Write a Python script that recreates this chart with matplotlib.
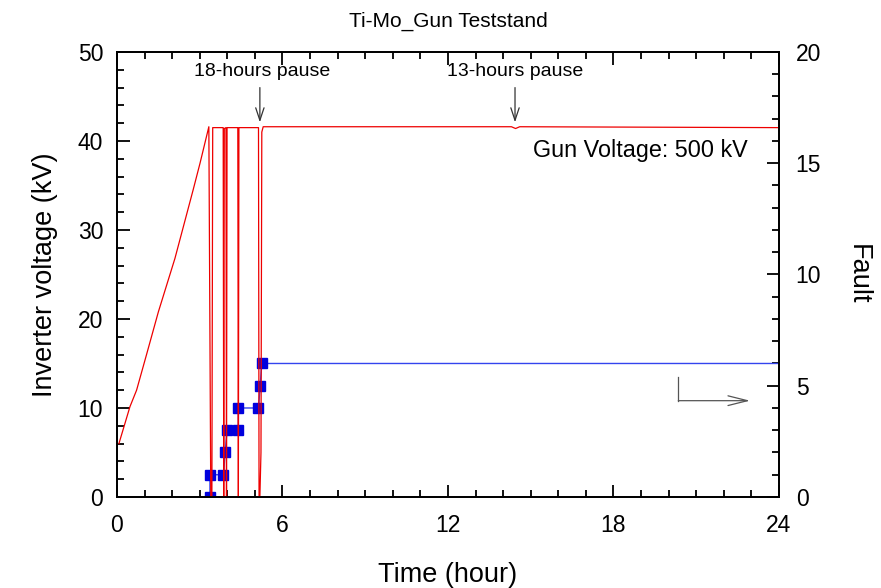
import matplotlib
matplotlib.use("Agg")
import matplotlib.pyplot as plt
from matplotlib.ticker import MultipleLocator

plt.rcParams['font.family'] = ['Liberation Sans', 'DejaVu Sans']

# inverter voltage trace (hour, kV)
volt_t = [0.07, 0.47, 0.71, 1.08, 1.50, 1.80, 2.10, 2.40, 2.76, 3.01, 3.33,
          3.40, 3.44, 3.47, 3.85, 3.87, 3.89, 3.95, 3.97, 3.99, 4.38, 4.40, 4.42,
          5.13, 5.15, 5.18, 5.22, 5.25, 5.30, 14.30, 14.45, 14.60, 24.0]
volt_kv = [6.0, 10.15, 12.0, 16.1, 20.8, 23.8, 26.8, 30.3, 34.5, 37.5, 41.6,
           0.0, 0.0, 41.5, 41.5, 0.0, 41.4, 41.5, 0.0, 41.5, 41.5, 0.0, 41.5,
           41.5, 0.0, 0.0, 5.0, 41.0, 41.6, 41.6, 41.4, 41.6, 41.5]

# fault counter (hour, count)
fault_t = [3.37, 3.37, 3.86, 3.92, 3.99, 4.40, 4.40, 5.13, 5.19, 5.25, 24.0]
fault_n = [0, 1, 1, 2, 3, 3, 4, 4, 5, 6, 6]

fig = plt.figure(figsize=(8.81, 5.88), dpi=100)
ax = fig.add_axes([0.1328, 0.1548, 0.7514, 0.7568])
ax2 = ax.twinx()

ax.plot(volt_t, volt_kv, color='#ee0000', lw=0.9, zorder=2)
ax2.plot(fault_t, fault_n, color='#3344ee', lw=1.0, marker='s', ms=7,
         mfc='#0000dd', mec='#0000dd', markevery=list(range(len(fault_t) - 1)))

ax.set_xlim(0, 24)
ax.set_ylim(0, 50)
ax2.set_ylim(0, 20)
ax.set_zorder(ax2.get_zorder() + 1)
ax.patch.set_visible(False)

ax.xaxis.set_major_locator(MultipleLocator(6))
ax.xaxis.set_minor_locator(MultipleLocator(1))
ax.yaxis.set_major_locator(MultipleLocator(10))
ax.yaxis.set_minor_locator(MultipleLocator(2))
ax2.yaxis.set_major_locator(MultipleLocator(5))
ax2.yaxis.set_minor_locator(MultipleLocator(1))

ax.tick_params(which='both', direction='in', top=True, right=False, width=1.3)
ax.tick_params(which='major', length=9, labelsize=16.5)
ax.tick_params(which='minor', length=5)
ax.tick_params(axis='x', which='major', pad=12)
ax.tick_params(axis='y', which='major', pad=10)
ax2.tick_params(which='both', direction='in', width=1.3)
ax2.tick_params(which='major', length=9, labelsize=16.5, pad=12)
ax2.tick_params(which='minor', length=5)
for a in (ax, ax2):
    for s in a.spines.values():
        s.set_linewidth(1.3)

ax.set_xlabel('Time (hour)', fontsize=19.5, labelpad=18)
ax.set_ylabel('Inverter voltage (kV)', fontsize=19.5, labelpad=14)
ax2.set_ylabel('Fault', fontsize=19.5, rotation=270, labelpad=36)
ax.set_title('Ti-Mo_Gun Teststand', fontsize=15, pad=18)

arrow = dict(arrowstyle='->,head_length=0.9,head_width=0.3', color='#333333', lw=0.9,
             shrinkA=0, shrinkB=0)
ax.annotate('', xy=(5.18, 42.1), xytext=(5.18, 46.0), arrowprops=arrow)
ax.text(5.25, 46.9, '18-hours pause', fontsize=14, ha='center', va='bottom')
ax.annotate('', xy=(14.43, 42.1), xytext=(14.43, 46.0), arrowprops=arrow)
ax.text(14.45, 46.9, '13-hours pause', fontsize=14, ha='center', va='bottom')
ax.text(15.08, 38.9, 'Gun Voltage: 500 kV', fontsize=16.8, ha='left', va='center')

ax.plot([20.35, 20.35], [13.52, 10.82], color='#555555', lw=0.9)
ax.annotate('', xy=(22.95, 10.82), xytext=(20.35, 10.82),
            arrowprops=dict(arrowstyle='->,head_length=1.4,head_width=0.35',
                            color='#555555', lw=0.9, shrinkA=0, shrinkB=0))

fig.savefig('out.png', dpi=100)
